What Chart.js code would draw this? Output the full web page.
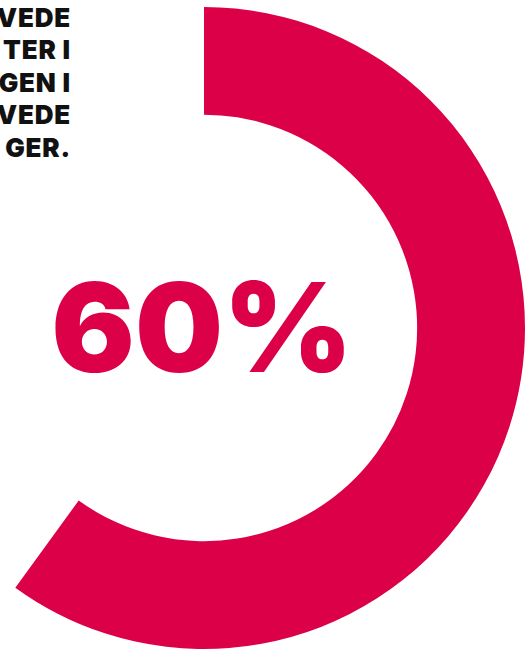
<!DOCTYPE html>
<html>
<head>
<meta charset="utf-8">
<script src="https://cdn.jsdelivr.net/npm/chart.js@4"></script>
<style>
  html, body { margin: 0; padding: 0; background: #ffffff; }
  body { width: 530px; height: 653px; overflow: hidden; position: relative; }
  #wrap { position: absolute; left: -117px; top: 7px; width: 642px; height: 642px; }
  #caption {
    position: absolute; right: 460px; top: 1.5px; text-align: right;
    font-family: "Inter", sans-serif; font-weight: 900; font-size: 26px;
    line-height: 32.5px; color: #111111; white-space: nowrap; letter-spacing: 0.8px;
    margin-right: -1px;
  }
</style>
</head>
<body>
<div id="caption"></div>
<div id="wrap"><canvas id="ringChart"></canvas></div>
<script>
// Chart data
const labels = ["Andel", "Rest"];
const values = [60, 40];
const centerLabel = "60%";
const captionLines = ["VEDE", "TER I", "GEN I", "VEDE", "GER."];

const red = "#dc0049";

document.getElementById("caption").innerHTML = captionLines.join("<br>");

// Draw the big percentage in the middle of the ring
const centerText = {
  id: "centerText",
  afterDraw(chart) {
    const arc = chart.getDatasetMeta(0).data[0];
    const ctx = chart.ctx;
    ctx.save();
    ctx.fillStyle = red;
    ctx.font = "900 124px Inter, sans-serif";
    ctx.textAlign = "center";
    ctx.textBaseline = "alphabetic";
    ctx.fillText(centerLabel, arc.x - 2, arc.y + 44);
    ctx.restore();
  },
};

const ctx = document.getElementById("ringChart").getContext("2d");
new Chart(ctx, {
  type: "doughnut",
  data: {
    labels: labels,
    datasets: [
      {
        data: values,
        backgroundColor: [red, "rgba(0,0,0,0)"],
        borderWidth: 0,
        hoverOffset: 0,
      },
    ],
  },
  options: {
    responsive: true,
    maintainAspectRatio: false,
    animation: false,
    cutout: "66.4%",
    layout: { padding: 0 },
    plugins: {
      legend: { display: false },
      tooltip: { enabled: false },
    },
  },
  plugins: [centerText],
});
</script>
</body>
</html>
